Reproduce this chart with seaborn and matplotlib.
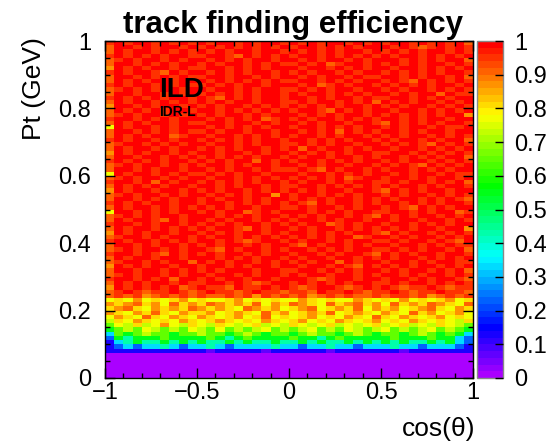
import colorsys
import numpy as np
import pandas as pd
import matplotlib
matplotlib.use("Agg")
import matplotlib.pyplot as plt
from matplotlib.colors import ListedColormap
from matplotlib.ticker import FixedLocator, FixedFormatter, MultipleLocator
import seaborn as sns

# ---------------- data ----------------
title = "track finding efficiency"
x_label = "cos(θ)"
y_label = "Pt (GeV)"
x_ticks = [-1, -0.5, 0, 0.5, 1]
x_tick_labels = ["\u22121", "\u22120.5", "0", "0.5", "1"]
y_ticks = [0, 0.2, 0.4, 0.6, 0.8, 1]
y_tick_labels = ["0", "0.2", "0.4", "0.6", "0.8", "1"]
cbar_ticks = [0, 0.1, 0.2, 0.3, 0.4, 0.5, 0.6, 0.7, 0.8, 0.9, 1]
cbar_tick_labels = ["0", "0.1", "0.2", "0.3", "0.4", "0.5", "0.6", "0.7", "0.8", "0.9", "1"]
experiment = "ILD"
detector = "IDR-L"

n_cos_bins = 40
n_pt_bins = 80
cos_range = (-1.0, 1.0)
pt_range = (0.0, 1.0)

# efficiency value read for each colour level seen in the picture
level_values = {
    "p": 0.01, "q": 0.07, "b": 0.13, "B": 0.22, "c": 0.32, "C": 0.42,
    "g": 0.55, "G": 0.64, "l": 0.72, "y": 0.77, "Y": 0.81, "o": 0.87,
    "O": 0.915, "r": 0.955, "R": 0.985,
}

# one string per Pt bin (bottom -> top), one character per cos(theta) bin
eff_rows = [
    "pppppppppp pppppppppp pppppppppp pppppppppp",
    "pppppppppp pppppppppp pppppppppp pppppppppp",
    "pppppppppp pppppppppp pppppppppp pppppppppp",
    "pppppppppp pppppppppp pppppppppp pppppppppp",
    "pppppppppp pppppppppp pppppppppp pppppppppp",
    "pppppppppp pppppppppp pppppppppp pppppppppp",
    "bbbbbbbbbb bqbbbbbqbb bbbbqbbbbb bbqbbbbbbb",
    "bBcBccCcBc cCcBccccCc cBccCccBcc cCccBcccBb",
    "bcCgCCgCgC gCCgCgCCgC CgCgCCgCgC gCgCCgCgcB",
    "BgCgggGggg gGgCgGgggg GggCgGgggg gGgggGggcB",
    "cGgGlGGgGG lGGgGlGgGG gGlGGgGlGg GGgGlGgGgc",
    "gGlGylGlGy lGyGlGlyGl GlyGlGylGl yGlGlyGlGg",
    "GylYlyoylY ylYylyYlyl YylyYlylyY lyYlylYylG",
    "lYyoYyYyoY yYoYyYyoYy YoyYyoYyYo yYyoYyYylY",
    "yoYyOYyoYy oYyYoyYOyY yYoyYyoYyO YyoYyYoyYy",
    "oYyoYOYyoY YoyYoYyOYo yYoYOyYoYy oYyOYoyYoy",
    "YoOYyoYoYO oYoYyOoYoy YoOyYoYOyo YoyYoOYyoY",
    "oYoOYoyOYo YOoYoYOyoY OoYyOYoOYo yOYoYOoYyO",
    "yYyoyYyYoy YyyYoyYyYy yoYyYyyoYy YyoyYyYoyY",
    "OrOroOrOrO rOOrOrorOr OroOrOrOOr OrrOroOrOr",
    "OrRrOrrRrO rRrrOrRrrO rrORrrRrOr rRrOrrRrrO",
    "oRrRrRrROr RrrORrrRrR rOrRRrOrRr RrOrrRrOrr",
    "ORrRrRRrRr rRRrRrOrRR rRrRrRrRRr rRrRRrRrRr",
    "rRRrRrRORR rRrRRrRRrR RRrOrRRrRR rRRrRrRRrO",
    "OrRrRRrRrR RrRRrRrRRr RrRRrRRrRr RRrRrRRrRr",
    "ORRrRRrRrR rRrRRRrRRr rRRrRrRrRR rRrRRrRrRO",
    "oRrRrRRrRR rRRrRrRRrR RrRRrRrORr RrRrRRrRrR",
    "OrRRrRrRRO RrRrRRrRrR rRrRRORrRR rRRrRrRRrr",
    "ORrRRrRRrR RRrRrRrRRr RrRRrRRrRr RrRRrRrRrR",
    "rRRrRrORrR rRrRRrRrRR rRRrRrRRrO RrRrRRrRRr",
    "OrRrRRrRrR RrORrRRrRr RRrRrRrRRr rRrRrRRrRO",
    "ORRrRrRRrR rRrRRrRrRR rORrRRrRrR RrRRrRrRrr",
    "rRrRRrRrRr RRrRrOrRRr RrRRrRrRRr rRrRRrRrOR",
    "OrRRrRrRRr RrRRrRrRrR rRrRrRROrR RrRrRRrRrR",
    "oRrRrRRrRR rRrRrRRrRr RRrRrRrRRr ORrRRrRrRr",
    "ORrRRrRrRr RrRRrORrRR rRrRRrRrRr RrRrRRrRRo",
    "rRRrRrRRrR rRrRrRRrRr RrRROrRrRR rRRrRrRrRR",
    "ORrRRrORrR RrRrRRrRrR rRRrRrRRrR RrRRrRRrRr",
    "OrRrRrRRrR RRrRrRrRRr RrRrRRrRrO RrRrRRrRrR",
    "yRRrRrRrRR rRrRROrRrR RRrRrRrRRr rRRrRrRROr",
    "ORrRRrRrRr RrRrRRrRRr rRrRRrRrRR rRrORrRrRR",
    "rRrRrRRrRR rRRrRrRrRr RrORrRRrRr RRrRrRrRRr",
    "ORRrRrRrRR rRrRRrRrRR rRrRrRRrRr RrRRrRrRrO",
    "OrRrRRrRrR RrRrRrRRoR rRRrRrRrRR rRrRRrRrRr",
    "oRrRRrRRrR rRrRRrRrRr RrRrRRrRRr ORrRrRRrRR",
    "ORrRrRrRRr RRrRrRRrRr rRRrRrRrRr RrRRrRrRRr",
    "rRRrRORrRR rRrRrRrRRr RrRRrRrRRr rRrRRrRrRO",
    "OrRrRRrRrR RrRRrRrRrR rRrRrROrRR rRRrRrRRrR",
    "yRrRRrRrRr rRrRrRRrRR RrRRrRrRrR RrRrRRrRrr",
    "ORRrRrRRrR RrRrRRrRrr rRrORrRRrR rRRrRrRrRR",
    "OrRrRRrRrR rRRrRrRRrR RrRrRRrRRr RrRrORrRrR",
    "rRrRrRrRRr RrRrRRORrR rRRrRrRrRR rRrRRrRrRr",
    "ORRrRRrRrR rRrRrRrRRr RrRRrRRrRr RRrRrRrRRO",
    "oRrRrRRrRr RRrRRrRrRR rRrRrRrRRr rRRrRrRrRr",
    "ORrRRrRrRR rRrRrRRrRr RORrRRrRrR RrRRrRrRrR",
    "OrRRrRrRrR RrRRrRrRRr rRrRrRRrRR rRrRrORrRr",
    "rRrRRrRrRR rRrRrRrRRr RRrRrRrRRr RrRRrRrRRO",
    "ORrRrRROrR RrRRrRrRrR rRRrRrRRrR rRrRRrRrRr",
    "ORRrRrRrRr rRrRRrRRrR RrRrRORrRr RRrRrRRrRR",
    "yRrRRrRrRR RrRrRrRrRR rRRrRrRrRR rRrRRrRrrR",
    "ORrRrRRrRr rRRrRRrRrR RrRrRRrRRr ORrRrRrRRr",
    "rRRrRrRrRR RrRrRrROrR rRrRRrRrRr RRrRrRRrRR",
    "OrRrRRrRrR rRrRRrRrRR RrRrRrRRrR rRrRrRrRRo",
    "ORrRrRrRRr RRrRrRrRrR rRRrORrRrR RrRRrRrRrR",
    "oRRrRrRRrR rRrRRrRrRr RrRrRrRRrR rRrRRrRrRr",
    "ORrRRrRrRr RrRrRRrRRr rRrRRrRrRO RrRrRRrRrR",
    "rRrRrRrRRr RrORrRrRRr RRrRrRRrRr rRRrRrRrRR",
    "ORRrRRrRrR rRrRrRrRRr RrRRrRrRrR RrRrRRORrr",
    "OrRrRrRRrR RrRRrRrRRr rRrRrRRrRR rRrRRrRrRr",
    "rRrRRrRrRr rRrRrRRrRR RrROrRrRRr RrRrRrRRrR",
    "ORrRrRRrRR RrRrRrRrRr rRRrRrRrRR rRrORrRrRr",
    "ORRrRrRrRr rRRrRRrRrR RrRrRRrRrr RRrRrRRrRO",
    "rRrRRrORrR RrRrRrRRrR rRrRRrRrRR rRrRrRrRRr",
    "oRrRrRRrRr rRRrRrRrRR RrRRrRrRrR RrRRrRrRrR",
    "ORRrRrRrRR rRrRRrRrRr rRrROrRRrR rRrRrRRrRr",
    "OrRrRRrRrR RrRrRrRRrR RrRrRRrRrR RRrRrRrRRO",
    "rRrRrRrRRr rRRrORrRrR rRRrRrRrRr RrRRrRrRrR",
    "ORrRRrRrRr RrRrRRrRRr RrRrRrRRrR rRrRrRRrRr",
    "ORRrRrRRrR rRrRrRrRrR rRRrRrRrRR RrRrOrRrRr",
    "rRrRRrRrRr RrRRrRrRRr RrRrRRrRrR rRRrRrRrRO",
]

# ---------------- build table ----------------
rows = [r.replace(" ", "") for r in eff_rows]
bad = [(i, len(r)) for i, r in enumerate(rows) if len(r) != n_cos_bins]
assert not bad and len(rows) == n_pt_bins, (bad, len(rows))

cos_edges = np.linspace(cos_range[0], cos_range[1], n_cos_bins + 1)
pt_edges = np.linspace(pt_range[0], pt_range[1], n_pt_bins + 1)
cos_centers = 0.5 * (cos_edges[:-1] + cos_edges[1:])
pt_centers = 0.5 * (pt_edges[:-1] + pt_edges[1:])

records = []
for k, row in enumerate(rows):
    for j, ch in enumerate(row):
        records.append((cos_centers[j], pt_centers[k], level_values[ch]))
df = pd.DataFrame(records, columns=["cos", "pt", "eff"])

# ROOT "pretty" palette: 50 colours violet -> red
cmap = ListedColormap(
    [colorsys.hls_to_rgb(280.0 * (1 - i / 49) / 360.0, 0.5, 1.0) for i in range(50)]
)

# ---------------- plot ----------------
sns.set_style("ticks")
plt.rcParams["font.family"] = ["Liberation Sans", "DejaVu Sans"]
plt.rcParams["axes.unicode_minus"] = True
plt.rcParams["text.color"] = "black"
plt.rcParams["xtick.color"] = "black"
plt.rcParams["ytick.color"] = "black"
plt.rcParams["xtick.labelcolor"] = "black"
plt.rcParams["ytick.labelcolor"] = "black"
plt.rcParams["axes.labelcolor"] = "black"
plt.rcParams["axes.axisbelow"] = False

W, H = 549, 441
fig = plt.figure(figsize=(W / 100, H / 100), dpi=100)
ax = fig.add_axes([105 / W, (H - 378) / H, 368 / W, 337 / H])
cax = fig.add_axes([477 / W, (H - 378) / H, 26 / W, 337 / H])

sns.histplot(
    data=df, x="cos", y="pt", weights="eff",
    bins=[cos_edges, pt_edges], cbar=False, ax=ax, cmap=cmap,
    linewidth=0,
)
mesh = ax.collections[0]
mesh.set_cmap(cmap)
mesh.set_clim(0, 1)
ax.set_axisbelow(False)

ax.set_xlim(cos_range)
ax.set_ylim(pt_range)
ax.set_xlabel("")
ax.set_ylabel("")

ax.xaxis.set_major_locator(FixedLocator(x_ticks))
ax.xaxis.set_major_formatter(FixedFormatter(x_tick_labels))
ax.xaxis.set_minor_locator(MultipleLocator(0.1))
ax.yaxis.set_major_locator(FixedLocator(y_ticks))
ax.yaxis.set_major_formatter(FixedFormatter(y_tick_labels))
ax.yaxis.set_minor_locator(MultipleLocator(0.05))

ax.tick_params(which="both", direction="in", top=True, right=True,
               color="black", width=1, labelcolor="black")
ax.tick_params(which="major", length=7.5, labelsize=17)
ax.tick_params(which="minor", length=3.8)
ax.tick_params(axis="x", which="major", pad=3)
ax.tick_params(axis="y", which="major", pad=10)
for s in ax.spines.values():
    s.set_color("black")
    s.set_linewidth(1)
    s.set_zorder(5)

cb = fig.colorbar(mesh, cax=cax, ticks=cbar_ticks)
cb.ax.set_yticklabels(cbar_tick_labels)
cb.ax.minorticks_off()
cax.set_axisbelow(False)
cax.tick_params(direction="in", length=6, width=1, labelsize=17, pad=8,
                right=True, left=False, color="black", labelcolor="black")
cb.outline.set_edgecolor("#888888")
cb.outline.set_linewidth(1)

fig.text(293 / W, 1 - 33 / H, title, ha="center", va="baseline",
         fontsize=22.5, fontweight="bold", color="black")
fig.text(475 / W, 1 - 436 / H, x_label, ha="right", va="baseline",
         fontsize=19, color="black")
fig.text(34 / W, 1 - 37 / H, y_label, ha="center", va="top", rotation=90,
         fontsize=19, color="black")

ax.text(54 / 368, (378 - 97) / 337, experiment, transform=ax.transAxes,
        ha="left", va="baseline", fontsize=20, fontweight="bold",
        color="black", zorder=6)
ax.text(54 / 368, (378 - 116) / 337, detector, transform=ax.transAxes,
        ha="left", va="baseline", fontsize=10, fontweight="bold",
        color="black", zorder=6)

fig.savefig("out.png", dpi=100)
